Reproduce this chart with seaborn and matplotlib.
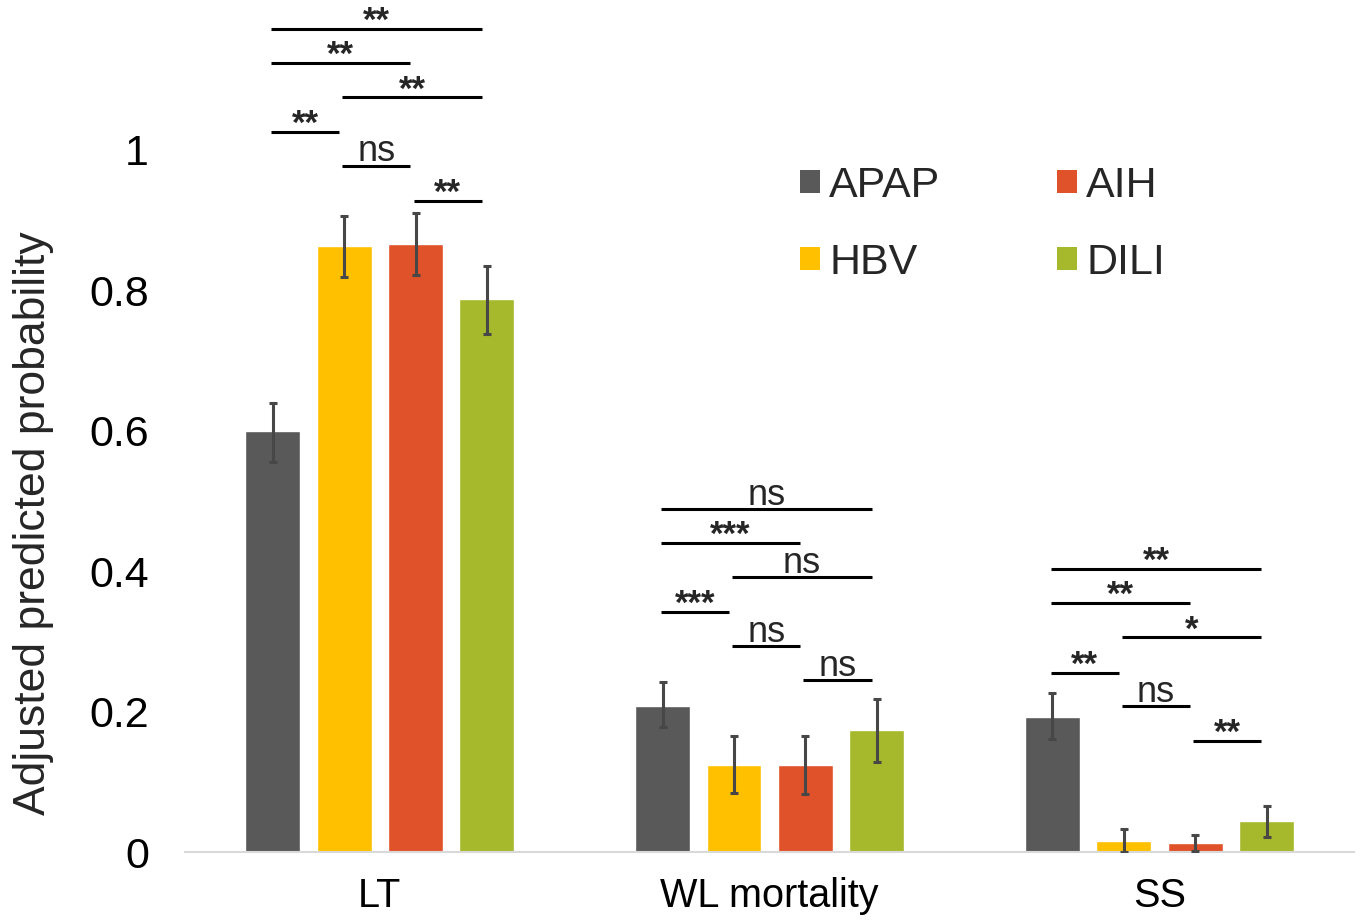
import numpy as np
import pandas as pd
import seaborn as sns
import matplotlib.pyplot as plt
from matplotlib.patches import Patch

# ---- data -------------------------------------------------------------
outcomes = ["LT", "WL mortality", "SS"]
etiologies = ["APAP", "HBV", "AIH", "DILI"]
bar_colors = ["#595959", "#FFC000", "#E0532A", "#A6B82B"]

prob_apap = [0.600, 0.209, 0.193]
prob_hbv = [0.862, 0.124, 0.017]
prob_aih = [0.865, 0.124, 0.014]
prob_dili = [0.787, 0.174, 0.045]

ci_low_apap = [0.556, 0.178, 0.161]
ci_high_apap = [0.640, 0.242, 0.227]
ci_low_hbv = [0.819, 0.085, 0.000]
ci_high_hbv = [0.905, 0.165, 0.034]
ci_low_aih = [0.822, 0.083, 0.002]
ci_high_aih = [0.910, 0.166, 0.025]
ci_low_dili = [0.737, 0.128, 0.022]
ci_high_dili = [0.834, 0.219, 0.066]

y_ticks = [0, 0.2, 0.4, 0.6, 0.8, 1.0]
y_tick_labels = ["0", "0.2", "0.4", "0.6", "0.8", "1"]

# pairwise comparisons (indices into etiologies), with their significance
pairs = [(0, 3), (0, 2), (1, 3), (0, 1), (1, 2), (2, 3)]
sig_lt = ["**", "**", "**", "**", "ns", "**"]
sig_wl = ["ns", "***", "ns", "***", "ns", "ns"]
sig_ss = ["**", "**", "*", "**", "ns", "**"]
level_lt = [1.171, 1.123, 1.074, 1.025, 0.977, 0.927]
level_wl = [0.489, 0.440, 0.392, 0.342, 0.294, 0.245]
level_ss = [0.403, 0.355, 0.306, 0.256, 0.208, 0.159]

# ---- long-form table for seaborn -------------------------------------
probs = [prob_apap, prob_hbv, prob_aih, prob_dili]
lows = [ci_low_apap, ci_low_hbv, ci_low_aih, ci_low_dili]
highs = [ci_high_apap, ci_high_hbv, ci_high_aih, ci_high_dili]
rows = []
for h, et in enumerate(etiologies):
    for g, oc in enumerate(outcomes):
        rows.append({"outcome": oc, "etiology": et, "prob": probs[h][g]})
df = pd.DataFrame(rows)

# ---- figure ----------------------------------------------------------
sns.set_style("white")
plt.rcParams["font.family"] = ["Liberation Sans", "DejaVu Sans"]

fig = plt.figure(figsize=(13.63, 9.24), dpi=100)
ax = fig.add_axes([0.1357, 0.0774, 0.858, 0.913])

sns.barplot(data=df, x="outcome", y="prob", hue="etiology",
            order=outcomes, hue_order=etiologies, palette=bar_colors,
            width=0.732, gap=0.23, errorbar=None, saturation=1,
            legend=False, ax=ax)

# bar centres, ordered group by group then etiology by etiology
bars = sorted(ax.patches, key=lambda p: p.get_x() + p.get_width() / 2)
centers = {}
for k, p in enumerate(bars):
    g, h = divmod(k, len(etiologies))
    centers[(g, h)] = p.get_x() + p.get_width() / 2

# confidence intervals
for (g, h), xc in centers.items():
    val = probs[h][g]
    err = [[val - lows[h][g]], [highs[h][g] - val]]
    ax.errorbar([xc], [val], yerr=err, fmt="none", ecolor="#474747",
                elinewidth=2.2, capsize=3, capthick=2.2, zorder=4)

# significance bars
sig_sets = [(sig_lt, level_lt), (sig_wl, level_wl), (sig_ss, level_ss)]
for g, (sigs, levels) in enumerate(sig_sets):
    for (i, j), s, lev in zip(pairs, sigs, levels):
        x0 = centers[(g, i)] - 0.005
        x1 = centers[(g, j)] - 0.013
        ax.plot([x0, x1], [lev, lev], color="black", lw=2.2,
                solid_capstyle="butt", zorder=5)
        if s == "ns":
            ax.annotate(s, ((x0 + x1) / 2, lev), xytext=(0, 3),
                        textcoords="offset points", ha="center",
                        va="baseline", fontsize=26)
        else:
            ax.annotate(s, ((x0 + x1) / 2, lev), xytext=(0, -1.5),
                        textcoords="offset points", ha="center",
                        va="baseline", fontsize=25, fontweight="bold")

# axes styling
ax.set_xlim(-0.5, 2.5)
ax.set_ylim(0, 1.2)
ax.set_yticks(y_ticks)
ax.set_yticklabels(y_tick_labels)
ax.tick_params(axis="both", length=0, colors="black")
ax.tick_params(axis="y", pad=26, labelsize=31)
ax.tick_params(axis="x", pad=18, labelsize=28.5)
for side in ("top", "right", "left"):
    ax.spines[side].set_visible(False)
ax.spines["bottom"].set_color("#D9D9D9")
ax.spines["bottom"].set_linewidth(1.5)
ax.set_xlabel("")
ax.set_ylabel("Adjusted predicted probability", fontsize=32)
ax.yaxis.set_label_coords(-0.112, 0.39)

handles = [Patch(facecolor=c, edgecolor="none", label=e)
           for c, e in zip(bar_colors, etiologies)]
ax.legend(handles=handles, ncol=2, loc="upper left",
          bbox_to_anchor=(800 / 1363, 1 - 166 / 924),
          bbox_transform=fig.transFigure, frameon=False, fontsize=31,
          handlelength=0.46, handleheight=0.46, handletextpad=0.22,
          columnspacing=2.7, labelspacing=0.86, borderpad=0,
          borderaxespad=0)

fig.savefig("out.png", dpi=100)
